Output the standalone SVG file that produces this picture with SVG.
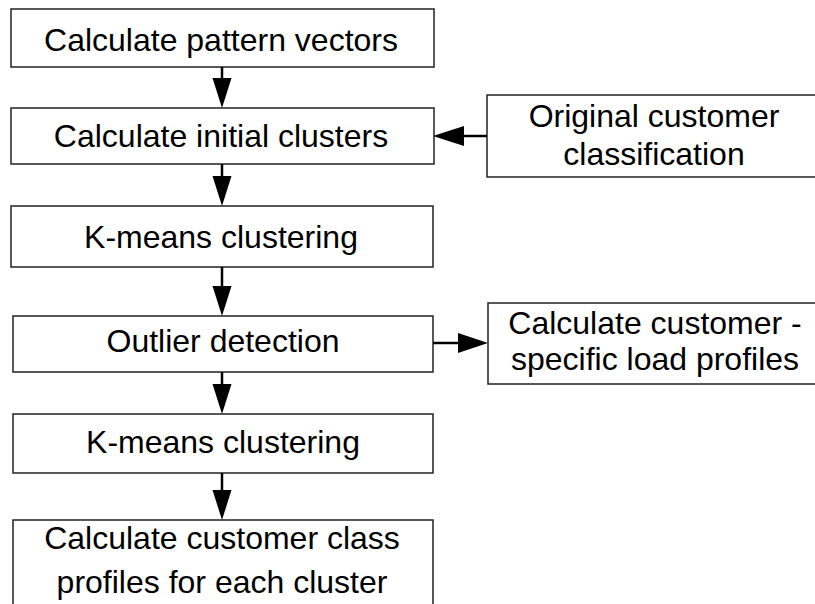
<svg xmlns="http://www.w3.org/2000/svg" width="815" height="604" viewBox="0 0 815 604">
<defs>
<style>
.box{fill:#fff;stroke:#222;stroke-width:1.5}
.t{font-family:"Liberation Sans",Arial,sans-serif;font-size:32px;fill:#000;text-anchor:middle}
.c{stroke:#000;stroke-width:2.5;fill:none}
.h{fill:#000;stroke:none}
</style>
</defs>
<rect width="815" height="604" fill="#fff"/>
<g id="n1"><rect class="box" x="11" y="9" width="423" height="58"/><text class="t" x="221" y="51">Calculate pattern vectors</text></g>
<g id="n2"><rect class="box" x="11" y="108" width="423" height="56"/><text class="t" x="221" y="147">Calculate initial clusters</text></g>
<g id="n3"><rect class="box" x="11" y="206" width="422" height="61"/><text class="t" x="221" y="248">K-means clustering</text></g>
<g id="n4"><rect class="box" x="13" y="316" width="420" height="56"/><text class="t" x="223" y="352">Outlier detection</text></g>
<g id="n5"><rect class="box" x="13" y="414" width="420" height="59"/><text class="t" x="223" y="453">K-means clustering</text></g>
<g id="n6"><rect class="box" x="13" y="520" width="420" height="100"/><text class="t" x="222" y="549">Calculate customer class</text><text class="t" x="222" y="593">profiles for each cluster</text></g>
<g id="n7"><rect class="box" x="487" y="95" width="340" height="82"/><text class="t" x="654" y="127">Original customer</text><text class="t" x="654" y="165">classification</text></g>
<g id="n8"><rect class="box" x="488" y="303" width="340" height="81"/><text class="t" x="655" y="334">Calculate customer -</text><text class="t" x="655" y="370">specific load profiles</text></g>
<g id="connectors">
<line class="c" x1="222" y1="67" x2="222" y2="80"/><polygon class="h" points="212.5,78 231.5,78 222,108"/>
<line class="c" x1="222" y1="164" x2="222" y2="178"/><polygon class="h" points="212.5,176 231.5,176 222,206"/>
<line class="c" x1="222" y1="267" x2="222" y2="288"/><polygon class="h" points="212.5,286 231.5,286 222,316"/>
<line class="c" x1="222" y1="372" x2="222" y2="386"/><polygon class="h" points="212.5,384 231.5,384 222,414"/>
<line class="c" x1="222" y1="473" x2="222" y2="492"/><polygon class="h" points="212.5,490 231.5,490 222,520"/>
<line class="c" x1="487" y1="136" x2="462" y2="136"/><polygon class="h" points="464,126 464,146 433,136"/>
<line class="c" x1="433" y1="343" x2="460" y2="343"/><polygon class="h" points="458,333 458,353 488,343"/>
</g>
</svg>
